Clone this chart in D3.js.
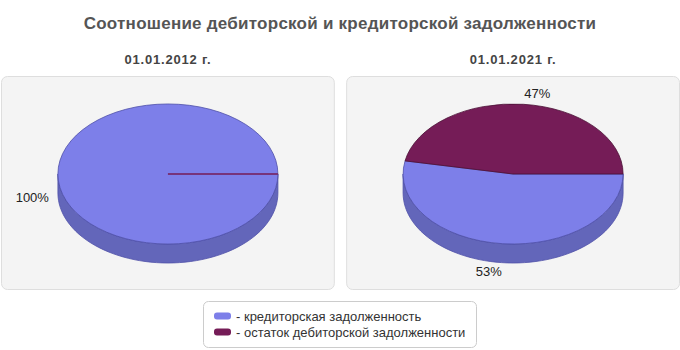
<!DOCTYPE html>
<html><head><meta charset="utf-8">
<script src="https://cdn.jsdelivr.net/npm/d3@7"></script>
<style>body{margin:0;background:#fff}svg{display:block;font-family:"Liberation Sans",Arial,sans-serif}</style>
</head><body><svg id="c" width="680" height="350"></svg>
<script>
const title = "Соотношение дебиторской и кредиторской задолженности";
const dates = ["01.01.2012 г.", "01.01.2021 г."];
const seriesNames = ["- кредиторская задолженность", "- остаток дебиторской задолженности"];
const creditor = [100, 53];
const debtor = [0, 47];
const topColors = ["#7d7fe9", "#751c57"];
const sideColors = ["#6366ba", "#5a1543"];
const edgeColors = ["#4f51a8", "#4a0f35"];

const svg = d3.select("#c");
const W = 680;
svg.append("text").attr("x", W/2).attr("y", 29).attr("text-anchor","middle")
  .attr("font-size", 17).attr("letter-spacing", 0.25).attr("font-weight","bold").attr("fill","#555").text(title);

const panelX = d3.scaleBand().domain(dates).range([0, 680]).paddingInner(0.03);
const rx = 110, ry = 70, depth = 19;
const pie = d3.pie().sort(null).startAngle(Math.PI/2).endAngle(Math.PI/2 + 2*Math.PI);
const arc = d3.arc().innerRadius(0).outerRadius(rx);
const pct = d3.format(".0%");

function ellPt(a, dy){ return [rx*Math.sin(a), -ry*Math.cos(a) + (dy||0)]; }

dates.forEach((d, i) => {
  const x0 = panelX(d), bw = panelX.bandwidth();
  const cx = x0 + bw/2 + 0.5, cy = 174;
  svg.append("text").attr("x", cx).attr("y", 64).attr("text-anchor","middle")
    .attr("font-size", 13).attr("letter-spacing", 0.8).attr("font-weight","bold").attr("fill","#444").text(d);
  svg.append("rect").attr("x", x0+1.5).attr("y", 76.5).attr("width", bw-2).attr("height", 213)
    .attr("rx", 6).attr("fill","#f4f4f4").attr("stroke","#dedede");
  const vals = [creditor[i], debtor[i]];
  const total = d3.sum(vals);
  const arcs = pie(vals);
  const g = svg.append("g").attr("transform", `translate(${cx},${cy})`);
  arcs.forEach((a, k) => {
    if (a.value === 0) return;
    for (let off = 0; off <= 2*Math.PI; off += 2*Math.PI) {
      const s = Math.max(a.startAngle, Math.PI/2 + off), e = Math.min(a.endAngle, 3*Math.PI/2 + off);
      if (e - s < 1e-6) continue;
      const n = 60, pts = [];
      for (let j = 0; j <= n; j++) pts.push(ellPt(s + (e-s)*j/n, 0));
      for (let j = n; j >= 0; j--) pts.push(ellPt(s + (e-s)*j/n, depth));
      g.append("path").attr("d", d3.line()(pts) + "Z")
        .attr("fill", sideColors[k]).attr("stroke", edgeColors[k]).attr("stroke-width", 0.8);
    }
  });
  const top = g.append("g").attr("transform", `scale(1,${ry/rx})`);
  arcs.forEach((a, k) => {
    top.append("path").attr("d", arc(a))
      .attr("fill", topColors[k])
      .attr("stroke", a.value === 0 ? topColors[k] : edgeColors[k])
      .attr("stroke-width", a.value === 0 ? 1.5 : 0.8)
      .attr("vector-effect","non-scaling-stroke");
  });
  arcs.forEach((a, k) => {
    if (a.value === 0) return;
    const m = (a.startAngle + a.endAngle)/2;
    const sx = Math.sin(m), sy = -Math.cos(m);
    const lx = 119*sx;
    const ly = 23 + sy*(sy < 0 ? 104 : 75);
    g.append("text").attr("x", lx).attr("y", ly).attr("dy","0.35em")
      .attr("text-anchor", sx >= 0 ? "start" : "end")
      .attr("font-size", 13).attr("fill","#222").text(pct(a.value/total));
  });
});

const lg = svg.append("g");
lg.append("rect").attr("x", 203.5).attr("y", 301.5).attr("width", 273).attr("height", 46)
  .attr("rx", 5).attr("fill","#fff").attr("stroke","#ccc");
const ly = d3.scalePoint().domain(seriesNames).range([316, 332]);
seriesNames.forEach((s, k) => {
  lg.append("rect").attr("x", 214).attr("y", ly(s)-3.5).attr("width", 17).attr("height", 7)
    .attr("rx", 3).attr("fill", topColors[k]);
  lg.append("text").attr("x", 236).attr("y", ly(s)).attr("dy","0.35em")
    .attr("font-size", 13).attr("fill","#333").text(s);
});
</script></body></html>
